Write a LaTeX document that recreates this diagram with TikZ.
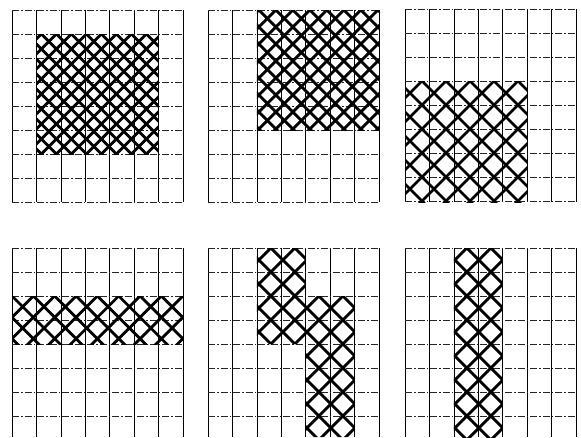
\documentclass[tikz,border=0pt]{standalone}
\begin{document}
\begin{tikzpicture}[x=1pt,y=-1pt]
\tikzset{
  vline/.style={line width=0.6pt, black},
  hline/.style={line width=0.5pt, black!85, dash pattern=on 7pt off 2pt on 1.5pt off 2pt},
  hatchline/.style={line width=2.8pt, black}
}
\useasboundingbox (0,0) rectangle (581,437);
\newcommand\gridpanel[4]{% x0, y0, ybottom, number of horizontal lines-1
  \foreach \i in {0,...,7}{\draw[vline] ({#1+\i*24.4},#2) -- ({#1+\i*24.4},#3);}
  \foreach \j in {0,...,#4}{\draw[hline] (#1,{#2+\j*24}) -- ({#1+7*24.4},{#2+\j*24});}
}
\newcommand\myhatch[4]{% x ref, y ref, spacing, offset
  \foreach \k in {-20,...,32}{
    \draw[hatchline] ({#1+#4+\k*#3-300},{#2-300}) -- ++(600,600);
    \draw[hatchline] ({#1+#4+\k*#3-300},{#2+300}) -- ++(600,-600);
  }
}
% grids
\gridpanel{12}{10}{202}{8}
\gridpanel{208}{10}{202}{8}
\gridpanel{405}{9}{202}{8}
\gridpanel{12}{248}{437}{7}
\gridpanel{208}{248}{437}{7}
\gridpanel{405}{248}{437}{7}
% panel 1
\begin{scope}
  \clip (36.4,34) rectangle (158.4,154);
  \myhatch{36.4}{34}{15}{5}
\end{scope}
% panel 2
\begin{scope}
  \clip (256.8,10) rectangle (378.8,130);
  \myhatch{256.8}{10}{17}{2}
\end{scope}
% panel 3
\begin{scope}
  \clip (405,81) rectangle (527,202);
  \myhatch{405}{81}{24}{17}
\end{scope}
% panel 4
\begin{scope}
  \clip (12,296) rectangle (182.8,344);
  \myhatch{12}{296}{21.35}{0}
\end{scope}
% panel 5
\begin{scope}
  \clip (256.8,248) -- (305.6,248) -- (305.6,296) -- (354.4,296) -- (354.4,437)
        -- (305.6,437) -- (305.6,344) -- (256.8,344) -- cycle;
  \myhatch{256.8}{248}{24}{14}
\end{scope}
% panel 6
\begin{scope}
  \clip (453.8,248) rectangle (502.6,437);
  \myhatch{453.8}{248}{24}{13}
\end{scope}
\end{tikzpicture}
\end{document}
